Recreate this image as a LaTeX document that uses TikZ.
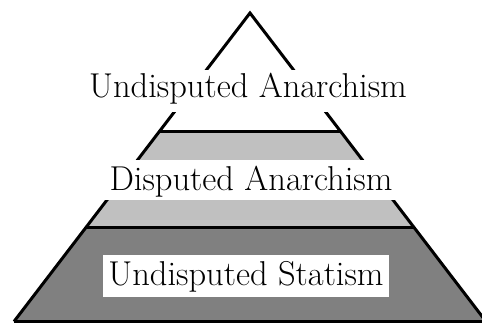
\documentclass[tikz,border=0pt]{standalone}
\usepackage{tikz}
\usetikzlibrary{calc}
\usepackage{xcolor}

\definecolor{lightband}{HTML}{C0C0C0}
\definecolor{darkband}{HTML}{808080}

\begin{document}
\begin{tikzpicture}[x=1pt, y=1pt,
  edge/.style = {line width=3pt, line join=miter},
  tag/.style = {fill=white, inner sep=0, anchor=base, font=\fontsize{34.5}{40}\selectfont}]
\clip (0,0) rectangle (482,322);

\coordinate (top) at (250,309);
\coordinate (bl) at (14,0.5);
\coordinate (br) at (486,0.5);

% the two cut lines across the pyramid
\coordinate (l1) at ($(top)!.3825!(bl)$);
\coordinate (r1) at ($(top)!.3825!(br)$);
\coordinate (l2) at ($(top)!.6937!(bl)$);
\coordinate (r2) at ($(top)!.6937!(br)$);

\fill[darkband] (l2) -- (r2) -- (br) -- (bl) -- cycle;
\fill[lightband] (l1) -- (r1) -- (r2) -- (l2) -- cycle;

\draw[edge] (bl) -- (top) -- (br);
\draw[edge] (bl) -- (br);
\draw[edge] (l1) -- (r1);
\draw[edge] (l2) -- (r2);

\node[tag, text height=28pt, text depth=14pt, minimum width=330pt] (ua) at (248,224) {Undisputed Anarchism};
\node[tag, text height=30pt, text depth=10pt, minimum width=300pt] (da) at (251,132) {Disputed Anarchism};
\node[tag, text height=30pt, text depth=12pt, minimum width=286pt] (us) at (246,37) {Undisputed Statism};

\end{tikzpicture}
\end{document}
